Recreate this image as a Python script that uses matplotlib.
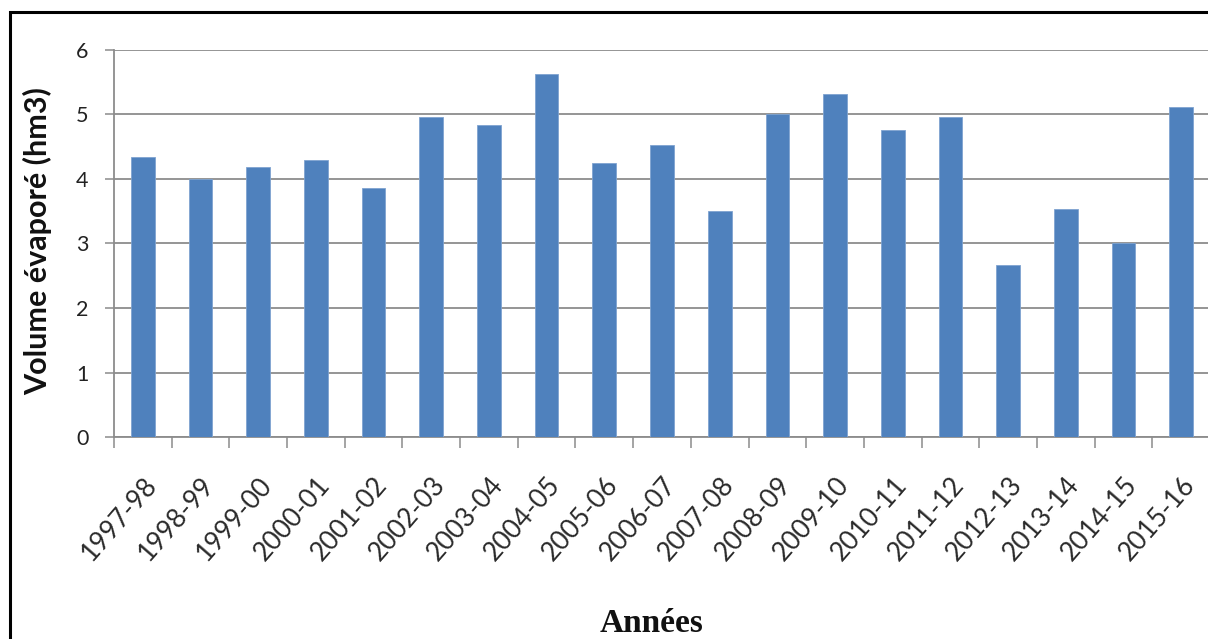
import matplotlib
matplotlib.use("Agg")
import matplotlib.pyplot as plt
from matplotlib.patches import Rectangle
import numpy as np

# Evaporated volume per hydrological year (hm3)
years = ["1997-98", "1998-99", "1999-00", "2000-01", "2001-02", "2002-03",
         "2003-04", "2004-05", "2005-06", "2006-07", "2007-08", "2008-09",
         "2009-10", "2010-11", "2011-12", "2012-13", "2013-14", "2014-15",
         "2015-16"]
volume = [4.33, 3.99, 4.18, 4.29, 3.86, 4.95, 4.83, 5.62, 4.25, 4.52,
          3.50, 5.00, 5.31, 4.76, 4.95, 2.67, 3.53, 3.01, 5.11]
y_ticks = [0, 1, 2, 3, 4, 5, 6]

W, H = 1208, 639
fig = plt.figure(figsize=(W / 100, H / 100), dpi=100)
fig.patch.set_facecolor("white")

# outer frame (only left and top edges fall inside the canvas)
fig.patches.append(Rectangle((10 / W, -0.2), 1.3, 1.2 - 12 / H,
                             transform=fig.transFigure, fill=False,
                             edgecolor="black", linewidth=2.2, zorder=0))

ax = fig.add_axes([114 / W, 1 - 437.3 / H, (1210 - 114) / W, (437.3 - 49.5) / H])
x = np.arange(len(years))
ax.bar(x, volume, width=0.41, color="#4F81BD", edgecolor="#7FA3D0",
       linewidth=0.6, zorder=3)

grid_c = "#8C8C8C"
ax.set_ylim(0, 6)
ax.set_xlim(-0.5, len(years) - 0.5)
ax.set_yticks(y_ticks)
ax.set_yticklabels([str(v) for v in y_ticks])
ax.yaxis.grid(True, color=grid_c, linewidth=1.3, zorder=0)
ax.set_axisbelow(True)

# category boundaries carry the tick marks, centres carry the labels
ax.set_xticks(np.arange(len(years) + 1) - 0.5)
ax.set_xticklabels([])
ax.set_xticks(x, minor=True)
ax.set_xticklabels(years, minor=True, rotation=49, ha="right",
                   rotation_mode="anchor", fontsize=19, family="Lato",
                   color="#2a2a2a")
ax.tick_params(axis="x", which="major", direction="out", length=8,
               width=1.1, color=grid_c)
ax.tick_params(axis="x", which="minor", length=0, pad=25)
ax.tick_params(axis="y", direction="out", length=6.5, width=1.1,
               color=grid_c, pad=12, labelsize=15.5, labelcolor="#222222")
for lab in ax.get_yticklabels():
    lab.set_family("Lato")

for s in ("top", "right"):
    ax.spines[s].set_visible(False)
for s in ("left", "bottom"):
    ax.spines[s].set_color(grid_c)
    ax.spines[s].set_linewidth(1.3)

fig.text(38 / W, 1 - 241 / H, "Volume évaporé (hm3)", rotation=90,
         ha="center", va="center", fontsize=22, fontweight="bold",
         family="Lato", color="#111111")
fig.text(652 / W, 1 - 623 / H, "Années", ha="center", va="center",
         fontsize=24, fontweight="bold", family="Liberation Serif",
         color="#111111")

fig.savefig("out.png", dpi=100, facecolor="white")
